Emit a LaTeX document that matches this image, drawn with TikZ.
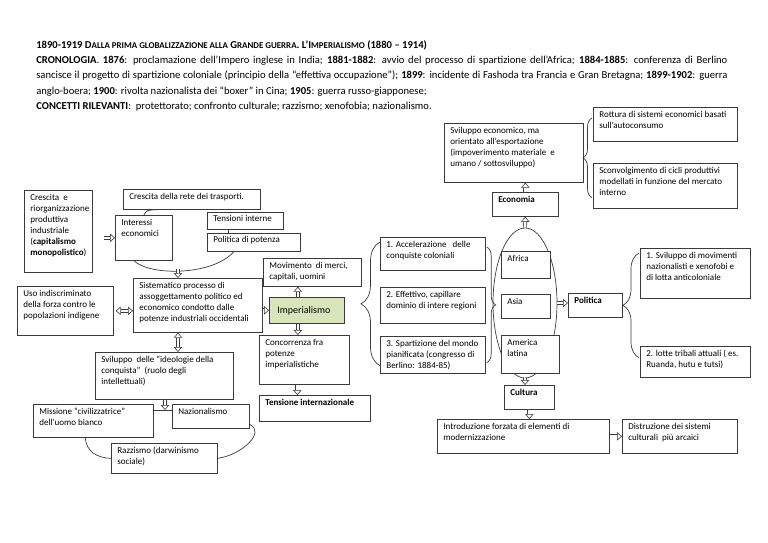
\documentclass[tikz,border=0pt]{standalone}
\usepackage{fontspec}
\setmainfont{Carlito}
\usetikzlibrary{arrows.meta, shapes.geometric, decorations.pathreplacing, shadows}
\definecolor{cline}{HTML}{3A3A3A}
\definecolor{cgreen}{HTML}{D8E4BC}
\newcommand{\boxfont}{\fontsize{9}{11}\selectfont}
\newcommand{\fakesc}[1]{{\fontsize{8.9}{9}\selectfont #1}}
\tikzset{
  every picture/.style={line width=0.7pt},
  box/.style={draw=cline, fill=white, anchor=north west, inner sep=0pt},
  txt/.style={anchor=north west, align=left, inner xsep=6pt, inner ysep=4pt, font=\boxfont},
  shd/.style={drop shadow={shadow xshift=1.1pt, shadow yshift=-1.1pt, fill=cline, opacity=1}},
  fat/.style={draw=cline, line width=0.6pt, double=white, double distance=2.6pt,
    -{Triangle[open, length=5pt, width=8.5pt, line width=0.6pt]}},
  fatboth/.style={fat, {Triangle[open, length=5pt, width=8.5pt, line width=0.6pt]}-{Triangle[open, length=5pt, width=8.5pt, line width=0.6pt]}},
  link/.style={draw=cline, line width=0.7pt},
  brc/.style={draw=cline, line width=0.7pt, decorate, decoration={brace, amplitude=#1}},
  brc/.default=9pt,
}

\begin{document}
\begin{tikzpicture}[x=1pt, y=-1pt]
  \useasboundingbox (0,0) rectangle (768,543);

  % header
  \node[anchor=north west, inner sep=0pt, text width=691pt, align=justify, font=\fontsize{10.6}{15.3}\selectfont] (header) at (36,40) {%
    \hyphenpenalty=10000 \exhyphenpenalty=10000
    \textbf{1890-1919 D\fakesc{ALLA PRIMA GLOBALIZZAZIONE ALLA} G\fakesc{RANDE GUERRA}. L’I\fakesc{MPERIALISMO} (1880 – 1914)}\\
    \textbf{CRONOLOGIA}. \textbf{1876}: proclamazione dell’Impero inglese in India; \textbf{1881-1882}: avvio del processo di spartizione dell’Africa; \textbf{1884-1885}: conferenza di Berlino\linebreak
    sancisce il progetto di spartizione coloniale (principio della “effettiva occupazione”); \textbf{1899}: incidente di Fashoda tra Francia e Gran Bretagna; \textbf{1899-1902}: guerra\linebreak
    anglo-boera; \textbf{1900}: rivolta nazionalista dei “boxer” in Cina; \textbf{1905}: guerra russo-giapponese;\\
    \textbf{CONCETTI RILEVANTI}:\ \ protettorato; confronto culturale; razzismo; xenofobia; nazionalismo.};

  % left part
  \node[box, minimum width=68, minimum height=82, label={[txt]north west:{Crescita\ \ e\\riorganizzazione\\produttiva\\industriale\\(\textbf{capitalismo}\\\textbf{monopolistico})}}] (crescita) at (24,190) {};
  \node[box, minimum width=137, minimum height=20, label={[txt]north west:{Crescita della rete dei trasporti.}}] (trasporti) at (123,189) {};
  \node[box, minimum width=57, minimum height=45, label={[txt]north west:{Interessi\\economici}}] (interessi) at (115,215) {};
  \node[box, minimum width=76, minimum height=17, label={[txt, inner ysep=3pt]north west:{Tensioni interne}}] (tensioni) at (207,212) {};
  \node[box, minimum width=93, minimum height=18, label={[txt, inner ysep=3pt]north west:{Politica di potenza}}] (potenza) at (207,233) {};
  \node[box, minimum width=98, minimum height=28, label={[txt]north west:{Movimento\ \ di merci,\\capitali, uomini}}] (movimento) at (263,258) {};
  \node[box, fill=cgreen, minimum width=75, minimum height=26, label={[txt, anchor=west, inner xsep=8pt, font=\fontsize{10}{12}\selectfont]west:{Imperialismo}}] (imper) at (269,297) {};
  \node[box, minimum width=90, minimum height=49, label={[txt]north west:{Concorrenza fra\\potenze\\imperialistiche}}] (concorrenza) at (259,335) {};
  \node[box, shd, minimum width=111, minimum height=26, label={[txt]north west:{\textbf{Tensione internazionale}}}] (tensint) at (259,395) {};
  \node[box, minimum width=129, minimum height=54, label={[txt]north west:{Sistematico processo di\\assoggettamento politico ed\\economico condotto dalle\\potenze industriali occidentali}}] (sistematico) at (133,278) {};
  \node[box, minimum width=96, minimum height=49, label={[txt]north west:{Uso indiscriminato\\della forza contro le\\popolazioni indigene}}] (uso) at (17,286) {};
  \node[box, minimum width=138, minimum height=47, label={[txt]north west:{Sviluppo\ \ delle “ideologie della\\conquista”\ \ (ruolo degli\\intellettuali)}}] (ideologie) at (95,352) {};
  \node[box, minimum width=120, minimum height=33, label={[txt]north west:{Missione “civilizzatrice”\\dell’uomo bianco}}] (missione) at (33,404) {};
  \node[box, shd, minimum width=77, minimum height=24, label={[txt]north west:{Nazionalismo}}] (nazion) at (172,404) {};
  \node[box, minimum width=106, minimum height=30, label={[txt]north west:{Razzismo (darwinismo\\sociale)}}] (razzismo) at (111,443) {};

  % middle column
  \node[box, minimum width=105, minimum height=33, label={[txt]north west:{1. Accelerazione\ \ \ delle\\conquiste coloniali}}] (acceler) at (380,237) {};
  \node[box, minimum width=105, minimum height=36, label={[txt]north west:{2. Effettivo, capillare\\dominio di intere regioni}}] (effettivo) at (380,287) {};
  \node[box, minimum width=105, minimum height=37, label={[txt]north west:{3. Spartizione del mondo\\pianificata (congresso di\\Berlino: 1884-85)}}] (spartiz) at (380,336) {};

  % right part
  \node[draw=cline, ellipse, minimum width=64, minimum height=150, inner sep=0pt] (regioni) at (525,303) {};
  \node[box, minimum width=49, minimum height=27, label={[txt]north west:{Africa}}] (africa) at (501,251) {};
  \node[box, minimum width=49, minimum height=24, label={[txt]north west:{Asia}}] (asia) at (501,294) {};
  \node[box, minimum width=58, minimum height=38, label={[txt]north west:{America\\latina}}] (america) at (501,335) {};
  \node[box, minimum width=66, minimum height=24, label={[txt]north west:{\textbf{Economia}}}] (economia) at (492,192) {};
  \node[box, minimum width=139, minimum height=59, label={[txt]north west:{Sviluppo economico, ma\\orientato all’esportazione\\(impoverimento materiale\ \ e\\umano / sottosviluppo)}}] (svileco) at (444,123) {};
  \node[box, minimum width=144, minimum height=34, label={[txt]north west:{Rottura di sistemi economici basati\\sull’autoconsumo}}] (rottura) at (593,107) {};
  \node[box, minimum width=144, minimum height=45, label={[txt]north west:{Sconvolgimento di cicli produttivi\\modellati in funzione del mercato\\interno}}] (sconv) at (593,163) {};
  \node[box, minimum width=54, minimum height=24, label={[txt]north west:{\textbf{Politica}}}] (politica) at (568,293) {};
  \node[box, shd, minimum width=110, minimum height=50, label={[txt]north west:{1. Sviluppo di movimenti\\nazionalisti e xenofobi e\\di lotta anticoloniale}}] (movnaz) at (640,248) {};
  \node[box, shd, minimum width=110, minimum height=31, label={[txt]north west:{2. lotte tribali attuali ( es.\\Ruanda, hutu e tutsi)}}] (lotte) at (640,346) {};
  \node[box, minimum width=50, minimum height=24, label={[txt]north west:{\textbf{Cultura}}}] (cultura) at (504,385) {};
  \node[box, minimum width=172, minimum height=34, label={[txt]north west:{Introduzione forzata di elementi di\\modernizzazione}}] (introd) at (437,419) {};
  \node[box, shd, minimum width=115, minimum height=34, label={[txt]north west:{Distruzione dei sistemi\\culturali\ \ più arcaici}}] (distr) at (622,419) {};

  % arcs and links
  \coordinate (arcbot) at (178,269);
  \coordinate (mlink) at (165,410);
  \draw[link] (interessi.north) .. controls (147,210) .. ([xshift=-34pt]trasporti.south);
  \draw[link] ([xshift=-10pt]interessi.south) .. controls (150,276) and (212,276) .. ([xshift=-20pt]potenza.south);
  \draw[link] ([xshift=-17pt]tensioni.south) -- ([xshift=-17pt]tensioni.south |- potenza.north);
  \draw[link] (mlink -| missione.east) -- (mlink -| nazion.west);
  \draw[link] ([xshift=-8pt]missione.south) .. controls (86,452) and (98,458) .. (razzismo.west);
  \draw[link] (razzismo.east) .. controls (242,455) and (266,432) .. ([yshift=-8pt]nazion.east);

  % braces
  \draw[brc=19pt] ([yshift=8pt]spartiz.south west) -- ([yshift=-5pt]acceler.north west);
  \draw[brc=9pt] ([xshift=1pt, yshift=-10pt]acceler.north east) -- ([xshift=1pt, yshift=11pt]spartiz.south east);
  \draw[brc=9pt] ([xshift=-1pt, yshift=11pt]sconv.south west) -- ([xshift=-1pt, yshift=-11pt]rottura.north west);
  \draw[brc=16pt] ([xshift=-1pt, yshift=20pt]lotte.south west) -- ([xshift=-1pt, yshift=-5pt]movnaz.north west);

  % arrows
  \draw[fat, shorten <=11pt] (crescita.east |- interessi.west) -- (interessi.west);
  \draw[fat] (arcbot) -- (arcbot |- sistematico.north);
  \draw[fatboth, shorten <=2pt] (uso.east) -- (uso.east -| sistematico.west);
  \draw[fat] (sistematico.east |- imper.west) -- (imper.west);
  \draw[fat] ([xshift=-9pt]imper.north) -- ([xshift=-9pt]imper.north |- movimento.south);
  \draw[fat] ([xshift=-9pt]imper.south) -- ([xshift=-9pt]imper.south |- concorrenza.north);
  \draw[fat] ([xshift=-7pt]concorrenza.south) -- ([xshift=-7pt]concorrenza.south |- tensint.north);
  \draw[fatboth] (sistematico.south -| arcbot) -- (ideologie.north -| arcbot);
  \draw[fat] (ideologie.south -| mlink) -- (mlink);
  \draw[fat] (regioni.north) -- (economia.south);
  \draw[fat] (economia.north) -- (economia.north |- svileco.south);
  \draw[fat] (regioni.east) -- (regioni.east -| politica.west);
  \draw[fat] (regioni.south) -- (regioni.south |- cultura.north);
  \draw[fat] (cultura.south) -- (cultura.south |- introd.north);
  \draw[fat] (introd.east) -- (distr.west);
\end{tikzpicture}
\end{document}
